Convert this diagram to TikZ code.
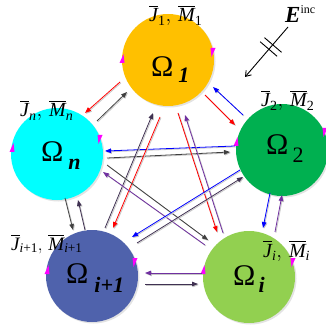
\documentclass[tikz,border=0pt]{standalone}
\usepackage{amsmath}
\usepackage{fontspec}
\setmainfont{Liberation Serif}
\usetikzlibrary{calc,arrows.meta,shadows}
\definecolor{corange}{HTML}{FFC000}
\definecolor{ccyan}{HTML}{00FFFF}
\definecolor{cgreen}{HTML}{00B050}
\definecolor{cblue}{HTML}{4F62AC}
\definecolor{clgreen}{HTML}{92D050}
\definecolor{ared}{HTML}{FF0000}
\definecolor{ablue}{HTML}{0000FF}
\definecolor{agray}{HTML}{404040}
\definecolor{apurple}{HTML}{7030A0}
\definecolor{aslate}{HTML}{403152}
\definecolor{tri}{HTML}{FF00FF}
\newcommand{\conn}[5]{%
  \draw[arr,black!22,transform canvas={shift={(0.9pt,-0.9pt)}}] ($(#2)+#3$) -- ($(#4)+#5$);
  \draw[arr,#1] ($(#2)+#3$) -- ($(#4)+#5$);}
\newcommand{\triLeft}[2]{\fill[tri] ($(#1)+#2+(-2.5,4)$) -- ++(5,0) -- ++(-1,-9) -- cycle;}
\newcommand{\triRight}[2]{\fill[tri] ($(#1)+#2+(-2.5,-4)$) -- ++(5,0) -- ++(-4,9) -- cycle;}
\newcommand{\vb}[1]{\overline{\textit{#1}}}
\begin{document}
\begin{tikzpicture}[x=1pt,y=-1pt,
  ball/.style={circle,minimum size=92pt,inner sep=0pt,
    drop shadow={shadow xshift=1.5pt,shadow yshift=-1.5pt,opacity=0.22}},
  arr/.style={line width=0.8pt,-{Triangle[length=6pt,width=4.5pt]}},
  omega/.style={anchor=base west,inner sep=0pt,font=\fontsize{30}{30}\selectfont},
  lab/.style={anchor=base west,inner sep=0pt,font=\fontsize{20}{20}\selectfont}]
\useasboundingbox (0,0) rectangle (325,328);
% circles
\node[ball,fill=corange] (c1) at (168,60) {};
\node[ball,fill=ccyan] (cn) at (57,154) {};
\node[ball,fill=cgreen] (c2) at (282,150) {};
\node[ball,fill=cblue] (cip) at (92,276) {};
\node[ball,fill=clgreen] (ci) at (249,277) {};
% omega labels
\node[omega] (o1) at ($(c1)+(-17,17)$) {Ω\hspace{5pt}\raisebox{-6pt}{\fontsize{22}{22}\selectfont\bfseries\itshape 1}};
\node[omega] (on) at ($(cn)+(-16,8)$) {Ω\hspace{5pt}\raisebox{-8pt}{\fontsize{22}{22}\selectfont\bfseries\itshape n}};
\node[omega] (o2) at ($(c2)+(-16,5)$) {Ω\hspace{4pt}\raisebox{-8pt}{\fontsize{22}{22}\selectfont 2}};
\node[omega] (oip) at ($(cip)+(-26,7)$) {Ω\hspace{6pt}\raisebox{-9pt}{\fontsize{22}{22}\selectfont\bfseries\itshape i+1}};
\node[omega] (oi) at ($(ci)+(-16,8)$) {Ω\hspace{3pt}\raisebox{-7pt}{\fontsize{22}{22}\selectfont\bfseries\itshape i}};
% current labels
\node[lab] (l1) at ($(c1)+(-19,-38)$) {$\vb{J}_{\text{1}},\,\vb{M}_{\text{1}}$};
\node[lab] (ln) at ($(cn)+(-37,-37)$) {$\vb{J}_{\text{\itshape n}},\,\vb{M}_{\text{\itshape n}}$};
\node[lab] (l2) at ($(c2)+(-21,-43)$) {$\vb{J}_{\text{2}},\,\vb{M}_{\text{2}}$};
\node[lab,font=\fontsize{19}{19}\selectfont] (lip) at ($(cip)+(-81,-26)$) {$\vb{J}_{\text{\itshape i\upshape +1}},\,\vb{M}_{\text{\itshape i\upshape +1}}$};
\node[lab] (li) at ($(ci)+(14,-20)$) {$\vb{J}_{\text{\itshape i}},\,\vb{M}_{\text{\itshape i}}$};
% magenta markers
\triLeft{c1}{(-46,-1)} \triRight{c1}{(45,-8)}
\triLeft{cn}{(-45,-6)} \triRight{cn}{(43,-15)}
\triLeft{c2}{(-46,-8)} \triRight{c2}{(43,-18)}
\triLeft{cip}{(-45,-6)} \triRight{cip}{(43,-14)}
\triLeft{ci}{(-46,-7)} \triRight{ci}{(44,-15)}
% connectors
\conn{ared}{c1}{(-48,22)}{cn}{(28,-41)}
\conn{agray}{cn}{(40,-33)}{c1}{(-41,32)}
\conn{ared}{c1}{(37,35)}{c2}{(-47,-25)}
\conn{ablue}{c2}{(-39,-35)}{c1}{(45,27)}
\conn{ablue}{c2}{(-47,-4)}{cn}{(48,-3)}
\conn{agray}{cn}{(50,4)}{c2}{(-52,2)}
\conn{aslate}{cip}{(13,-48)}{c1}{(-15,53)}
\conn{ared}{c1}{(-8,57)}{cip}{(21,-48)}
\conn{ared}{c1}{(10,53)}{ci}{(-32,-45)}
\conn{apurple}{ci}{(-26,-44)}{c1}{(17,55)}
\conn{agray}{cn}{(50,11)}{ci}{(-41,-37)}
\conn{apurple}{ci}{(-44,-32)}{cn}{(46,18)}
\conn{ablue}{c2}{(-42,20)}{cip}{(40,-39)}
\conn{aslate}{cip}{(45,-33)}{c2}{(-39,27)}
\conn{agray}{cn}{(8,44)}{cip}{(-19,-46)}
\conn{aslate}{cip}{(-7,-46)}{cn}{(21,46)}
\conn{ablue}{c2}{(-12,43)}{ci}{(14,-49)}
\conn{apurple}{ci}{(26,-45)}{c2}{(0,45)}
\conn{apurple}{ci}{(-47,-4)}{cip}{(53,-3)}
\conn{aslate}{cip}{(53,8)}{ci}{(-51,7)}
% incident field
\node[anchor=base west,inner sep=0pt,font=\fontsize{23}{23}\selectfont] (einc) at (285,23) {\textbf{\textit{E}}\raisebox{9pt}{\fontsize{12}{12}\selectfont inc}};
\coordinate (ea) at (288,27);
\coordinate (eb) at (245,77);
\draw[line width=0.9pt,-{Straight Barb[length=5pt,width=7pt]}] (ea) -- (eb);
\coordinate (em) at ($(ea)!0.4!(eb)$);
\draw[line width=0.9pt] ($(em)+(-2.2,2)+(-8.5,-7.3)$) -- ($(em)+(-2.2,2)+(8.5,7.3)$);
\draw[line width=0.9pt] ($(em)+(2.2,-2)+(-8.5,-7.3)$) -- ($(em)+(2.2,-2)+(8.5,7.3)$);
\end{tikzpicture}
\end{document}
